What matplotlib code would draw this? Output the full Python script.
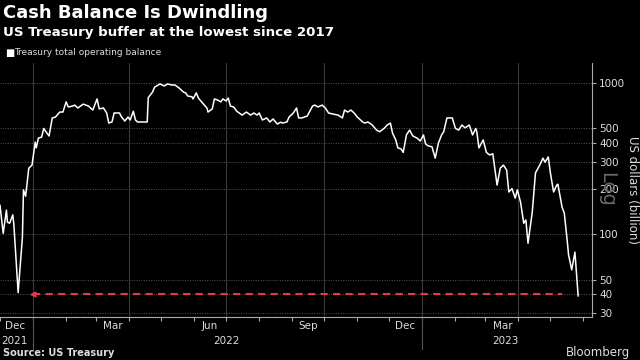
import pandas as pd
import matplotlib
matplotlib.use("Agg")
import matplotlib.pyplot as plt
import matplotlib.dates as mdates
from matplotlib.ticker import FixedLocator, FixedFormatter, NullLocator, NullFormatter

# ---- data ----
dates = [
    "2021-12-01", "2021-12-04", "2021-12-07", "2021-12-08", "2021-12-10", "2021-12-13", "2021-12-14",
    "2021-12-18", "2021-12-22", "2021-12-23", "2021-12-25", "2021-12-28", "2021-12-31",
    "2022-01-03", "2022-01-04", "2022-01-06", "2022-01-09", "2022-01-11", "2022-01-14", "2022-01-16",
    "2022-01-19", "2022-01-22", "2022-01-26", "2022-01-29", "2022-02-01", "2022-02-03", "2022-02-07",
    "2022-02-09", "2022-02-12", "2022-02-17", "2022-02-22", "2022-02-26", "2022-03-02", "2022-03-04",
    "2022-03-08", "2022-03-11", "2022-03-13", "2022-03-16", "2022-03-18", "2022-03-23", "2022-03-25",
    "2022-03-28", "2022-03-31", "2022-04-02", "2022-04-05", "2022-04-07", "2022-04-09", "2022-04-14",
    "2022-04-18", "2022-04-19", "2022-04-23", "2022-04-25", "2022-04-30", "2022-05-04", "2022-05-07",
    "2022-05-11", "2022-05-14", "2022-05-18", "2022-05-22", "2022-05-24", "2022-05-26", "2022-05-30",
    "2022-05-31", "2022-06-03", "2022-06-05", "2022-06-09", "2022-06-13", "2022-06-14", "2022-06-18",
    "2022-06-20", "2022-06-23", "2022-06-26", "2022-06-28", "2022-07-01", "2022-07-03", "2022-07-05",
    "2022-07-08", "2022-07-11", "2022-07-16", "2022-07-20", "2022-07-24", "2022-07-27", "2022-07-30",
    "2022-08-01", "2022-08-04", "2022-08-08", "2022-08-11", "2022-08-14", "2022-08-18", "2022-08-21",
    "2022-08-23", "2022-08-27", "2022-08-29", "2022-09-02", "2022-09-05", "2022-09-07", "2022-09-10",
    "2022-09-15", "2022-09-20", "2022-09-22", "2022-09-25", "2022-09-29", "2022-10-02", "2022-10-05",
    "2022-10-09", "2022-10-14", "2022-10-18", "2022-10-20", "2022-10-23", "2022-10-26", "2022-10-29",
    "2022-11-01", "2022-11-06", "2022-11-08", "2022-11-11", "2022-11-15", "2022-11-19", "2022-11-22",
    "2022-11-26", "2022-11-29", "2022-12-02", "2022-12-04", "2022-12-07", "2022-12-09", "2022-12-12",
    "2022-12-14", "2022-12-15", "2022-12-17", "2022-12-20", "2022-12-23", "2022-12-27", "2022-12-30",
    "2023-01-02", "2023-01-04", "2023-01-06", "2023-01-10", "2023-01-13", "2023-01-16", "2023-01-19",
    "2023-01-21", "2023-01-24", "2023-01-29", "2023-02-01", "2023-02-04", "2023-02-07", "2023-02-10",
    "2023-02-14", "2023-02-17", "2023-02-20", "2023-02-21", "2023-02-23", "2023-02-27", "2023-03-02",
    "2023-03-05", "2023-03-08", "2023-03-12", "2023-03-15", "2023-03-18", "2023-03-21", "2023-03-23",
    "2023-03-26", "2023-03-29", "2023-03-31", "2023-04-03", "2023-04-06", "2023-04-08", "2023-04-10",
    "2023-04-14", "2023-04-17", "2023-04-21", "2023-04-24", "2023-04-26", "2023-04-29", "2023-05-01",
    "2023-05-04", "2023-05-07", "2023-05-08", "2023-05-12", "2023-05-14", "2023-05-17", "2023-05-18",
    "2023-05-21", "2023-05-24", "2023-05-27",
]
balance = [
    155, 101, 144, 120, 118, 134, 115,
    41, 95, 196, 178, 273, 286,
    406, 372, 432, 438, 500, 466, 446,
    587, 595, 642, 642, 750, 694, 703,
    714, 683, 725, 703, 662, 784, 674,
    683, 633, 543, 552, 633, 633, 595,
    560, 595, 569, 650, 569, 552, 552,
    552, 800, 871, 940, 985, 955, 985,
    970, 970, 925, 871, 860, 820, 810,
    784, 860, 795, 735, 683, 642, 674,
    784, 771, 750, 784, 760, 795, 703,
    694, 650, 613, 642, 613, 633, 613,
    633, 569, 587, 552, 578, 535, 550,
    543, 552, 595, 633, 683, 587, 587,
    604, 703, 714, 694, 714, 683, 633,
    623, 613, 587, 662, 642, 662, 633,
    595, 552, 543, 552, 527, 488, 476,
    500, 527, 543, 466, 420, 372, 366,
    347, 378, 453, 488, 446, 432, 413,
    453, 395, 385, 378, 318, 400, 453,
    476, 587, 587, 500, 488, 527, 505,
    527, 453, 500, 476, 372, 420, 347,
    334, 340, 211, 273, 286, 265, 190,
    200, 173, 196, 163, 118, 124, 87,
    140, 254, 286, 318, 299, 324, 254,
    190, 211, 214, 150, 138, 87, 73,
    58, 76, 39,
]

low_level = 40
low_start, low_end = "2022-01-01", "2023-05-12"

y_ticks = [30, 40, 50, 100, 200, 300, 400, 500, 1000]
month_labels = ["Dec", "Mar", "Jun", "Sep", "Dec", "Mar"]
month_label_dates = ["2021-12-15", "2022-03-17", "2022-06-16", "2022-09-16", "2022-12-16", "2023-03-17"]
year_labels = ["2021", "2022", "2023"]
year_label_dates = ["2021-12-15", "2022-07-01", "2023-03-20"]
year_breaks = ["2022-01-01", "2023-01-01"]

# ---- plot ----
plt.rcParams.update({
    "font.family": ["DejaVu Sans"],
    "text.color": "#e6e6e6",
})

x = pd.to_datetime(dates)

fig = plt.figure(figsize=(6.4, 3.6), dpi=100, facecolor="black")
ax = fig.add_axes([0.0, 0.119, 0.925, 0.706], facecolor="black")

ax.plot(x, balance, color="white", lw=1.1, zorder=3)
ax.plot(pd.to_datetime([low_start, low_end]), [low_level, low_level],
        color="#e8364f", lw=1.5, ls=(0, (3.5, 2.5)), zorder=2)
ax.plot(pd.to_datetime([low_start]), [low_level], marker="<", ms=3.5,
        color="#e8364f", zorder=2)

ax.set_yscale("log")
ax.set_ylim(28.2, 1356)
ax.set_xlim(pd.Timestamp("2021-12-01"), pd.Timestamp("2023-06-09"))

ax.yaxis.set_major_locator(FixedLocator(y_ticks))
ax.yaxis.set_major_formatter(FixedFormatter([str(t) for t in y_ticks]))
ax.yaxis.set_minor_locator(NullLocator())
ax.yaxis.tick_right()
ax.tick_params(axis="y", which="major", direction="out", length=3, width=0.8,
               color="#aaaaaa", labelcolor="#dddddd", labelsize=7.5, pad=2)

ax.xaxis.set_major_locator(mdates.MonthLocator(bymonth=[1, 4, 7, 10]))
ax.xaxis.set_major_formatter(NullFormatter())
ax.xaxis.set_minor_locator(mdates.MonthLocator())
ax.tick_params(axis="x", which="both", direction="out", length=3, width=0.8,
               color="#aaaaaa")

ax.grid(axis="y", which="major", color="#555555", ls=(0, (1, 1.5)), lw=0.7)
ax.grid(axis="x", which="major", color="#3a3a3a", ls="-", lw=0.8)
ax.set_axisbelow(True)

for s in ["left", "top"]:
    ax.spines[s].set_visible(False)
for s in ["right", "bottom"]:
    ax.spines[s].set_color("#aaaaaa")
    ax.spines[s].set_linewidth(0.8)

xt = ax.get_xaxis_transform()
for lab, d in zip(month_labels, month_label_dates):
    ax.text(pd.Timestamp(d), -0.035, lab, transform=xt, ha="center", va="center",
            fontsize=7.5, color="#dddddd")
for lab, d in zip(year_labels, year_label_dates):
    ax.text(pd.Timestamp(d), -0.095, lab, transform=xt, ha="center", va="center",
            fontsize=7.5, color="#dddddd")
for d in year_breaks:
    ax.plot([pd.Timestamp(d)] * 2, [-0.005, -0.125], transform=xt, color="#555555",
            lw=0.8, clip_on=False)

# right-side labels (the grey "Log" watermark sits behind the 200 label, as in the source)
fig.text(0.948, 0.473, "Log", rotation=270, ha="center", va="center",
         fontsize=14, color="#666666", zorder=0)
fig.text(0.988, 0.473, "US dollars (billion)", rotation=270, ha="center", va="center",
         fontsize=8.5, color="#dddddd")

# titles / legend / footer
fig.text(0.004, 0.963, "Cash Balance Is Dwindling", ha="left", va="center",
         fontsize=13, fontweight="bold", color="white")
fig.text(0.004, 0.911, "US Treasury buffer at the lowest since 2017", ha="left", va="center",
         fontsize=9.6, fontweight="bold", color="white")
fig.text(0.008, 0.853, "\u25A0", ha="left", va="center", fontsize=7, color="white")
fig.text(0.022, 0.853, "Treasury total operating balance", ha="left", va="center",
         fontsize=6.5, color="#dddddd")
fig.text(0.004, 0.02, "Source: US Treasury", ha="left", va="center",
         fontsize=7, fontweight="bold", color="#dddddd")
fig.text(0.985, 0.022, "Bloomberg", ha="right", va="center",
         fontsize=8.5, color="#dddddd")

fig.savefig("out.png", dpi=100, facecolor="black")
